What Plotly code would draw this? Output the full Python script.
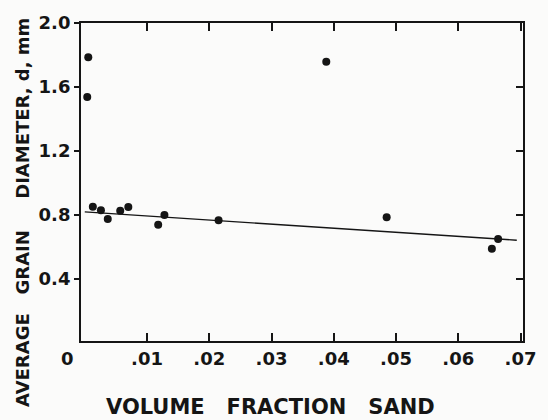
import plotly.graph_objects as go

# Data
volume_fraction = [0.00057, 0.0004, 0.0013, 0.0026, 0.0037, 0.0057, 0.0070,
                   0.0118, 0.0128, 0.0215, 0.0388, 0.0485, 0.0654, 0.0664]
grain_diameter = [1.786, 1.538, 0.852, 0.830, 0.775, 0.827, 0.850,
                  0.738, 0.800, 0.767, 1.758, 0.786, 0.588, 0.650]

fit_x = [0.0, 0.0694]
fit_y = [0.819, 0.642]

x_tick_vals = [0.01, 0.02, 0.03, 0.04, 0.05, 0.06, 0.07]
x_tick_text = [".01", ".02", ".03", ".04", ".05", ".06", ".07"]
origin_label = "0"
y_tick_vals = [0.4, 0.8, 1.2, 1.6, 2.0]
y_tick_text = ["0.4", "0.8", "1.2", "1.6", "2.0"]

x_title = "VOLUME&nbsp;&nbsp;&nbsp;FRACTION&nbsp;&nbsp;&nbsp;SAND"
y_title = "AVERAGE&nbsp;&nbsp;&nbsp;GRAIN&nbsp;&nbsp;&nbsp;&nbsp;&nbsp;DIAMETER,&nbsp;d,&nbsp;mm"

ink = "#151515"
font_family = "DejaVu Sans, Liberation Sans, Arial, sans-serif"
x_range = [-0.0006, 0.0704]
y_range = [0.012, 2.0]

W, H = 548, 420
ML, MR, MT, MB = 81, 20, 22, 79
pw, ph = W - ML - MR, H - MT - MB

tick_font = dict(size=18, family=font_family, color=ink, weight="bold")

fig = go.Figure()
fig.add_trace(go.Scatter(x=fit_x, y=fit_y, mode="lines",
                         line=dict(color=ink, width=1.4), yaxis="y2",
                         hoverinfo="skip", showlegend=False))
fig.add_trace(go.Scatter(x=volume_fraction, y=grain_diameter, mode="markers",
                         marker=dict(color=ink, size=8), showlegend=False))

fig.update_layout(
    width=W, height=H,
    margin=dict(l=ML, r=MR, t=MT, b=MB),
    paper_bgcolor="#fbfbfa", plot_bgcolor="#fbfbfa",
    font=dict(family=font_family, color=ink, size=18),
    xaxis=dict(range=x_range, tickvals=x_tick_vals, ticktext=x_tick_text,
               ticks="inside", ticklen=8, tickwidth=1.5, tickcolor=ink,
               showline=True, linecolor=ink, linewidth=1.9, mirror="ticks",
               showgrid=False, zeroline=False, ticklabelstandoff=0,
               tickfont=tick_font),
    yaxis=dict(range=y_range, tickvals=y_tick_vals, ticktext=y_tick_text,
               ticks="outside", ticklen=5, tickwidth=1.5, tickcolor=ink,
               showline=True, linecolor=ink, linewidth=1.9, mirror=True,
               showgrid=False, zeroline=False, tickfont=tick_font),
    yaxis2=dict(range=y_range, overlaying="y", side="right",
                tickvals=y_tick_vals, showticklabels=False,
                ticks="inside", ticklen=7, tickwidth=1.5, tickcolor=ink,
                showline=False, showgrid=False, zeroline=False),
)

# origin label "0" sits left of the x=0 position, level with the x tick labels
fig.add_annotation(x=0, y=0, xref="x", yref="paper", text=origin_label,
                   showarrow=False, xanchor="center", yanchor="middle",
                   xshift=-17, yshift=-17, font=tick_font)
# axis titles placed at pixel positions converted to paper coordinates
fig.add_annotation(x=(273 - ML) / pw, y=(H - MB - 407) / ph,
                   xref="paper", yref="paper", text=x_title,
                   showarrow=False, xanchor="center", yanchor="middle",
                   font=dict(size=21, family=font_family, color=ink, weight="bold"))
fig.add_annotation(x=(22 - ML) / pw, y=(H - MB - 212) / ph,
                   xref="paper", yref="paper", text=y_title,
                   showarrow=False, textangle=-90, xanchor="center", yanchor="middle",
                   font=dict(size=18, family=font_family, color=ink, weight="bold"))

fig.write_html("out.html", config={"displayModeBar": False},
               post_script="document.body.style.margin='0px';")
